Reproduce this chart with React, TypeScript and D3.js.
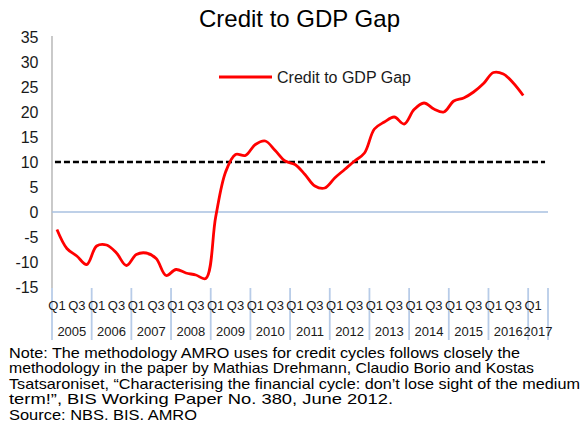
import React from "react";
import * as d3 from "d3";

const years = ["2005","2006","2007","2008","2009","2010","2011","2012","2013","2014","2015","2016","2017"];
const quartersPerYear = ["Q1","Q2","Q3","Q4"];
// Credit-to-GDP gap, 2005Q1 .. 2016Q4
const gapValues = [
  -3.5, -7.3, -8.8, -10.5,
  -6.8, -6.6, -8.2, -10.7,
  -8.5, -8.2, -9.3, -12.7,
  -11.5, -12.2, -12.6, -13.3,
  -1.0, 8.0, 11.5, 11.3,
  13.5, 14.2, 12.3, 10.2,
  9.5, 7.5, 5.2, 4.8,
  6.8, 8.5, 10.2, 11.8,
  16.6, 18.0, 19.0, 17.6,
  20.5, 21.8, 20.6, 20.0,
  22.2, 22.8, 24.0, 25.7,
  27.9, 27.6, 25.8, 23.3,
];
const thresholdValue = 10;
const yTicks = [35, 30, 25, 20, 15, 10, 5, 0, -5, -10, -15];
const seriesName = "Credit to GDP Gap";
const titleText = "Credit to GDP Gap";
const noteLines = [
  "Note: The methodology AMRO uses for credit cycles follows closely the",
  "methodology in the paper by Mathias Drehmann, Claudio Borio and Kostas",
  "Tsatsaroniset, \u201cCharacterising the financial cycle: don\u2019t lose sight of the medium",
  "term!\u201d, BIS Working Paper No. 380, June 2012.",
  "Source: NBS. BIS. AMRO",
];
const noteWidths = [511, 525, 571, 384, 188];

const categories: string[] = [];
years.forEach((y) => {
  quartersPerYear.forEach((q) => {
    if (y === "2017" && (q === "Q3" || q === "Q4")) return;
    categories.push(`${y}-${q}`);
  });
});

export default function App() {
  const W = 585, H = 425;
  const font = "Liberation Sans, Arial, sans-serif";
  const x = d3.scaleBand<string>().domain(categories).range([52, 548]).padding(0);
  const y = d3.scaleLinear().domain([-15, 35]).range([287, 37]);
  const bw = x.bandwidth();
  const cx = (c: string) => (x(c) as number) + bw / 2;

  const pts = gapValues.map((v, i) => ({ c: categories[i], v }));
  const line = d3
    .line<{ c: string; v: number }>()
    .x((d) => cx(d.c))
    .y((d) => y(d.v))
    .curve(d3.curveCatmullRom.alpha(0.5));

  const qLabels = categories.filter((c) => c.endsWith("Q1") || c.endsWith("Q3"));
  const yearBounds: number[] = [];
  years.forEach((yr) => {
    const first = categories.find((c) => c.startsWith(yr)) as string;
    yearBounds.push(x(first) as number);
  });
  yearBounds.push(548);

  return (
    <svg width={W} height={H} style={{ position: "absolute", left: 0, top: 0, background: "#fff" }} fontFamily={font}>
      <rect x={0} y={0} width={W} height={H} fill="#fff" />
      <text x={299.5} y={27} textAnchor="middle" fontSize={24} fill="#000">{titleText}</text>

      {/* y axis */}
      <line x1={52} x2={52} y1={36} y2={288} stroke="#a6a6a6" strokeWidth={1.2} />
      {yTicks.map((t) => (
        <text key={t} x={38.5} y={y(t) + 5.5} textAnchor="end" fontSize={16} fill="#1a1a1a">{t}</text>
      ))}

      {/* zero line */}
      <line x1={52} x2={548} y1={y(0)} y2={y(0)} stroke="#a8c0e0" strokeWidth={1.6} />

      {/* threshold dashed line */}
      <line
        x1={cx(categories[0]) - 2}
        x2={cx(categories[categories.length - 1]) + 2}
        y1={y(thresholdValue)}
        y2={y(thresholdValue)}
        stroke="#000"
        strokeWidth={2.6}
        strokeDasharray="6,3"
      />

      {/* series */}
      <path d={line(pts) as string} fill="none" stroke="#ff0000" strokeWidth={2.8} strokeLinejoin="round" />

      {/* x axis separators */}
      {yearBounds.map((b, i) => (
        <line key={i} x1={b} x2={b} y1={288} y2={340} stroke="#b8cce8" strokeWidth={1.8} />
      ))}
      {qLabels.map((c) => (
        <text key={c} x={cx(c)} y={309.5} textAnchor="middle" fontSize={13} fill="#1a1a1a">{c.split("-")[1]}</text>
      ))}
      {years.map((yr, i) => (
        <text key={yr} x={(yearBounds[i] + yearBounds[i + 1]) / 2} y={335.5} textAnchor="middle" fontSize={13} fill="#1a1a1a">{yr}</text>
      ))}

      {/* legend */}
      <line x1={219} x2={272} y1={77} y2={77} stroke="#ff0000" strokeWidth={3} />
      <text x={277} y={82.5} fontSize={16} fill="#1a1a1a">{seriesName}</text>

      {/* note */}
      {noteLines.map((t, i) => (
        <text
          key={i}
          x={9}
          y={358 + i * 15.4}
          fontSize={14.5}
          fill="#000"
          textLength={noteWidths[i]}
          lengthAdjust="spacingAndGlyphs"
        >
          {t}
        </text>
      ))}
    </svg>
  );
}
